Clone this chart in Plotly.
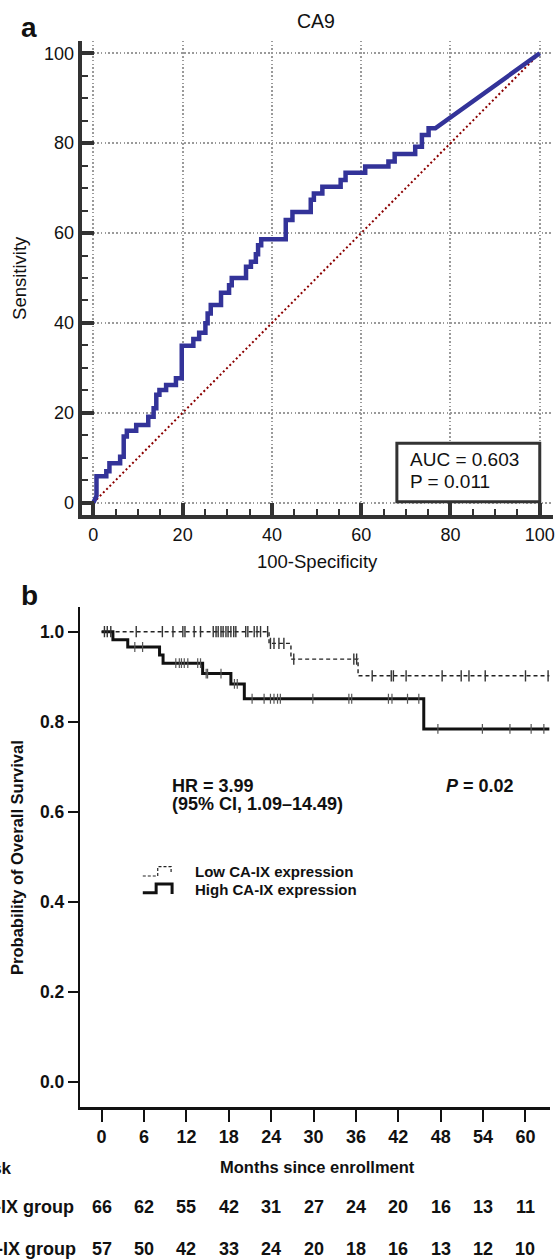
import plotly.graph_objects as go
import numpy as np

W, H = 558, 1260
FONT = "Liberation Sans, Arial, Helvetica, sans-serif"

# ---------------- Panel a: ROC curve (CA9) ----------------
roc_fpr = [0, 0.7, 0.7, 2.9, 2.9, 3.6, 3.6, 6.0, 6.0, 6.8, 6.8, 7.5, 7.5, 9.6, 9.6, 12.3, 12.3,
           13.5, 13.5, 14.1, 14.1, 14.8, 14.8, 16.3, 16.3, 18.5, 18.5, 19.8, 19.8, 22.4, 22.4,
           23.7, 23.7, 25.1, 25.1, 25.6, 25.6, 26.3, 26.3, 28.6, 28.6, 30.4, 30.4, 31.0, 31.0,
           34.2, 34.2, 35.3, 35.3, 36.4, 36.4, 36.9, 36.9, 37.6, 37.6, 43.1, 43.1, 44.6, 44.6,
           48.7, 48.7, 49.4, 49.4, 51.3, 51.3, 55.4, 55.4, 56.5, 56.5, 60.9, 60.9, 66.1, 66.1,
           67.5, 67.5, 72.1, 72.1, 73.6, 73.6, 75.1, 75.1, 76.6, 100]
roc_tpr = [0, 1.5, 5.9, 5.9, 7.0, 7.0, 8.8, 8.8, 10.2, 10.2, 14.7, 14.7, 16.0, 16.0, 17.3, 17.3, 19.1,
           19.1, 21.0, 21.0, 24.0, 24.0, 25.1, 25.1, 26.2, 26.2, 27.7, 27.7, 34.9, 34.9, 36.4,
           36.4, 37.8, 37.8, 39.9, 39.9, 42.1, 42.1, 44.0, 44.0, 46.7, 46.7, 48.4, 48.4, 50.0,
           50.0, 52.5, 52.5, 53.6, 53.6, 55.3, 55.3, 57.3, 57.3, 58.6, 58.6, 62.9, 62.9, 64.7,
           64.7, 67.4, 67.4, 68.8, 68.8, 70.3, 70.3, 71.8, 71.8, 73.4, 73.4, 74.8, 74.8, 75.9,
           75.9, 77.6, 77.6, 79.2, 79.2, 81.8, 81.8, 83.3, 83.3, 100]
ref_x = [0, 100]
ref_y = [0, 100]
roc_ticks = [0, 20, 40, 60, 80, 100]
auc_label = "AUC = 0.603"
p_label_a = "P = 0.011"

# ---------------- Panel b: Kaplan-Meier ----------------
month_ticks = list(range(0, 61, 6))
low_times = [0, 23.7, 26.8, 36.3]
low_surv = [1.0, 0.974, 0.939, 0.902]
low_censor = [0.4, 0.8, 1.3, 4.9, 8.6, 10.1, 11.5, 11.8, 13.1, 14.0, 15.8, 16.2, 16.5, 16.9,
              17.2, 17.6, 17.9, 18.3, 18.7, 19.0, 20.4, 20.7, 21.6, 22.0, 22.5, 23.5, 23.9, 24.4,
              25.1, 25.8, 27.2, 35.7, 36.1, 38.3, 41.0, 41.3, 43.1, 48.2, 50.9, 52.0, 54.3,
              60.0, 63.2]
high_times = [0, 1.6, 3.7, 8.2, 8.7, 14.3, 18.3, 20.2, 45.6]
high_surv = [1.0, 0.982, 0.966, 0.948, 0.930, 0.907, 0.884, 0.851, 0.784]
high_censor = [4.7, 5.8, 10.5, 11.0, 11.3, 11.7, 12.2, 13.6, 14.0, 14.8, 15.0, 16.9, 18.8, 19.2,
               21.3, 23.0, 23.9, 24.4, 24.9, 25.3, 29.9, 35.0, 35.4, 40.6, 41.1, 43.3, 44.9,
               47.6, 53.9, 57.8, 60.8, 62.6]
follow_end = 63.4
risk_low = [66, 62, 55, 42, 31, 27, 24, 20, 16, 13, 11]
risk_high = [57, 50, 42, 33, 24, 20, 18, 16, 13, 12, 10]


def px(x):
    return x / W


def py(y):
    return 1 - y / H


def surv_at(times, surv, t):
    idx = np.searchsorted(np.array(times), np.array(t), side="right") - 1
    return [surv[i] for i in idx]


fig = go.Figure()

# ROC
fig.add_trace(go.Scatter(x=ref_x, y=ref_y, mode="lines", xaxis="x", yaxis="y",
                         line=dict(color="#8b0000", width=2, dash="2px,2.6px"),
                         showlegend=False, hoverinfo="skip"))
fig.add_trace(go.Scatter(x=roc_fpr, y=roc_tpr, mode="lines", xaxis="x", yaxis="y",
                         line=dict(color="#333399", width=4.5), showlegend=False))

# KM curves
fig.add_trace(go.Scatter(x=low_times + [follow_end], y=low_surv + [low_surv[-1]],
                         mode="lines", line_shape="hv", xaxis="x2", yaxis="y2",
                         line=dict(color="#222", width=1.4, dash="4px,3px"), showlegend=False))
fig.add_trace(go.Scatter(x=high_times + [follow_end], y=high_surv + [high_surv[-1]],
                         mode="lines", line_shape="hv", xaxis="x2", yaxis="y2",
                         line=dict(color="#111", width=3), showlegend=False))
fig.add_trace(go.Scatter(x=low_censor, y=surv_at(low_times, low_surv, low_censor),
                         mode="markers", xaxis="x2", yaxis="y2",
                         marker=dict(symbol="line-ns", size=8, line=dict(color="#333", width=1.4)),
                         showlegend=False))
fig.add_trace(go.Scatter(x=high_censor, y=surv_at(high_times, high_surv, high_censor),
                         mode="markers", xaxis="x2", yaxis="y2",
                         marker=dict(symbol="line-ns", size=7, line=dict(color="#555", width=1.2)),
                         showlegend=False))

annotations = []


def ann(text, x, y, size, xanchor="center", yanchor="middle", bold=False, angle=0, color="#111",
        xref="paper"):
    if bold:
        text = "<b>" + text + "</b>"
    annotations.append(dict(text=text, x=x, y=y, xref=xref, yref="paper", xanchor=xanchor,
                            yanchor=yanchor, showarrow=False, textangle=angle,
                            font=dict(family=FONT, size=size, color=color)))


# panel a texts
ann("a", px(28.7), py(27), 28, bold=True)
ann("CA9", px(317.5), py(21), 19.5)
ann("Sensitivity", px(19), py(278), 18.5, angle=-90)
ann("100-Specificity", px(318.5), py(561), 18.5)
ann(auc_label, px(409), py(459.5), 19, xanchor="left")
ann(p_label_a, px(409), py(481.5), 19, xanchor="left")

# panel b texts
ann("b", px(30), py(595), 28, bold=True)
ann("Probability of Overall Survival", px(17), py(857), 16.5, bold=True, angle=-90)
ann("HR = 3.99", px(170.7), py(786), 18, xanchor="left", bold=True)
ann("(95% CI, 1.09\u201314.49)", px(170.7), py(804), 18, xanchor="left", bold=True)
ann("<i>P</i> = 0.02", px(518), py(786), 18, xanchor="right", bold=True)
ann("Low CA-IX expression", px(193.3), py(871.7), 15, xanchor="left", bold=True)
ann("High CA-IX expression", px(193.3), py(889.3), 15, xanchor="left", bold=True)
ann("Months since enrollment", px(318.5), py(1166.7), 16.5, bold=True)

# number-at-risk table
ann("Number at risk", px(14.3), py(1168.3), 17, xanchor="right", bold=True)
ann("Low CA-IX group", px(76), py(1206.7), 18, xanchor="right", bold=True)
ann("High CA-IX group", px(78), py(1249.3), 18, xanchor="right", bold=True)
for m, n in zip(month_ticks, risk_low):
    annotations.append(dict(text="<b>%d</b>" % n, x=m, xref="x2", y=py(1206.7), yref="paper",
                            showarrow=False, xanchor="center", yanchor="middle",
                            font=dict(family=FONT, size=18, color="#111")))
for m, n in zip(month_ticks, risk_high):
    annotations.append(dict(text="<b>%d</b>" % n, x=m, xref="x2", y=py(1249.3), yref="paper",
                            showarrow=False, xanchor="center", yanchor="middle",
                            font=dict(family=FONT, size=18, color="#111")))


def path(points):
    s = "M %f,%f" % (px(points[0][0]), py(points[0][1]))
    for x, y in points[1:]:
        s += " L %f,%f" % (px(x), py(y))
    return s


shapes = [
    dict(type="rect", xref="paper", yref="paper", x0=px(398.3), x1=px(541.7),
         y0=py(501.7), y1=py(443.3), line=dict(color="#333", width=3), fillcolor="white",
         layer="above"),
    dict(type="path", xref="paper", yref="paper",
         path=path([(143.3, 876), (158.3, 876), (158.3, 866.7), (171.7, 866.7), (171.7, 873.3)]),
         line=dict(color="#222", width=1.2, dash="3px,2px")),
    dict(type="path", xref="paper", yref="paper",
         path=path([(143.3, 892.7), (156.7, 892.7), (156.7, 884), (172.7, 884), (172.7, 894)]),
         line=dict(color="#111", width=3)),
]

grid_dash = "1.6px,2.2px"
fig.update_layout(
    width=W, height=H, margin=dict(l=0, r=0, t=0, b=0, pad=0),
    paper_bgcolor="white", plot_bgcolor="white",
    font=dict(family=FONT, color="#111"),
    annotations=annotations, shapes=shapes,
    xaxis=dict(domain=[px(82), px(555)], range=[-2.61, 102.97], anchor="y",
               tickvals=roc_ticks, ticks="inside", ticklen=12, tickwidth=4, tickcolor="#333",
               showline=True, linewidth=4, linecolor="#333",
               showgrid=True, gridcolor="#9a9a9a", gridwidth=1.5, griddash=grid_dash,
               zeroline=False, tickfont=dict(size=18, color="#111"),
               minor=dict(dtick=5, tick0=0, ticks="inside", ticklen=6, tickwidth=2,
                          tickcolor="#333", showgrid=False)),
    yaxis=dict(domain=[py(515), py(40.7)], range=[-2.74, 102.8], anchor="x",
               tickvals=roc_ticks, ticks="inside", ticklen=12, tickwidth=4, tickcolor="#333",
               showline=True, linewidth=4, linecolor="#333",
               showgrid=True, gridcolor="#9a9a9a", gridwidth=1.5, griddash=grid_dash,
               zeroline=False, tickfont=dict(size=18, color="#111"),
               minor=dict(dtick=5, tick0=0, ticks="inside", ticklen=6, tickwidth=2,
                          tickcolor="#333", showgrid=False)),
    xaxis2=dict(domain=[px(80), px(551.7)], range=[-3.10, 63.43], anchor="y2",
                tickvals=month_ticks, ticks="outside", ticklen=12, tickwidth=2, tickcolor="#111",
                showline=True, linewidth=2.5, linecolor="#111", showgrid=False, zeroline=False,
                tickfont=dict(size=18, color="#111", weight="bold")),
    yaxis2=dict(domain=[py(1107), py(607)], range=[-0.0562, 1.0549], anchor="x2",
                tickvals=[0, 0.2, 0.4, 0.6, 0.8, 1.0], tickformat=".1f",
                ticks="outside", ticklen=10, tickwidth=1.5, tickcolor="#111",
                showline=True, linewidth=2, linecolor="#111", showgrid=False, zeroline=False,
                tickfont=dict(size=17.5, color="#111", weight="bold")),
)

fig.write_html("out.html", config={"displayModeBar": False},
               post_script="document.body.style.margin='0';")
